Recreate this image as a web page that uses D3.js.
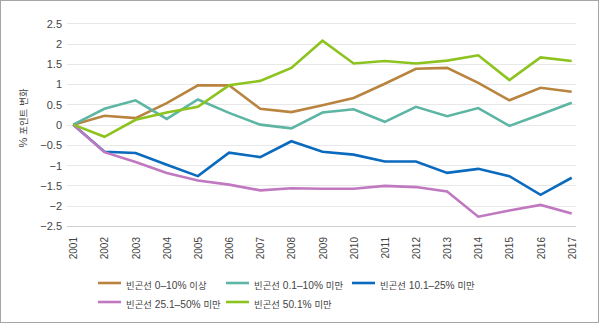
<!DOCTYPE html>
<html>
<head>
<meta charset="utf-8">
<script src="https://cdn.jsdelivr.net/npm/d3@7"></script>
<style>
  body { margin: 0; background: #fff; }
  svg text { font-family: "Liberation Sans", "Noto Sans CJK KR", sans-serif; fill: #444; }
</style>
</head>
<body>
<svg width="600" height="324"></svg>
<script>
const years = [2001, 2002, 2003, 2004, 2005, 2006, 2007, 2008, 2009, 2010, 2011, 2012, 2013, 2014, 2015, 2016, 2017];
const yTicks = [2.5, 2, 1.5, 1, 0.5, 0, -0.5, -1, -1.5, -2, -2.5];

const seriesNames = ["빈곤선 0-10% 이상", "빈곤선 0.1-10% 미만", "빈곤선 10.1-25% 미만", "빈곤선 25.1-50% 미만", "빈곤선 50.1% 미만"];
const below0to10 = [0, 0.22, 0.16, 0.53, 0.97, 0.97, 0.39, 0.31, 0.48, 0.66, 1.01, 1.38, 1.40, 1.03, 0.60, 0.91, 0.81];
const below01to10 = [0, 0.39, 0.60, 0.14, 0.62, 0.29, 0.0, -0.09, 0.30, 0.38, 0.07, 0.44, 0.21, 0.41, -0.03, 0.25, 0.54];
const below10to25 = [0, -0.67, -0.70, -0.99, -1.27, -0.69, -0.80, -0.41, -0.67, -0.74, -0.91, -0.91, -1.19, -1.09, -1.27, -1.73, -1.31];
const below25to50 = [0, -0.68, -0.92, -1.19, -1.38, -1.48, -1.62, -1.57, -1.58, -1.58, -1.51, -1.54, -1.65, -2.27, -2.12, -1.98, -2.19];
const below50 = [0, -0.30, 0.12, 0.30, 0.44, 0.97, 1.08, 1.40, 2.07, 1.51, 1.57, 1.51, 1.58, 1.71, 1.10, 1.66, 1.57];
const colors = ["#b8843f", "#5db5a3", "#0a6abd", "#c079c0", "#8cc31f"];

const allSeries = [below0to10, below01to10, below10to25, below25to50, below50];

const svg = d3.select("svg");

// hangul runs get a smaller size so they sit as narrow as latin text
function mixedText(sel, str, latinSize, hangulSize) {
    const runs = str.match(/[\uAC00-\uD7A3]+|[^\uAC00-\uD7A3]+/g);
    runs.forEach(function(r) {
        const isHangul = /[\uAC00-\uD7A3]/.test(r);
        sel.append("tspan")
            .attr("font-size", (isHangul ? hangulSize : latinSize) + "px")
            .text(r);
    });
}

// outer frame
svg.append("rect")
    .attr("x", 0.5).attr("y", 0.5)
    .attr("width", 598).attr("height", 322)
    .attr("fill", "none")
    .attr("stroke", "#a6a6a6");

const x = d3.scalePoint().domain(years).range([73.3, 571.7]);
const y = d3.scaleLinear().domain([-2.5, 2.5]).range([226, 23.3]);

// grid lines
svg.append("g")
    .selectAll("line")
    .data(yTicks)
    .enter().append("line")
    .attr("x1", 67).attr("x2", 576)
    .attr("y1", function(d) { return Math.round(y(d)) + 0.5; })
    .attr("y2", function(d) { return Math.round(y(d)) + 0.5; })
    .attr("stroke", function(d) { return d === -2.5 ? "#d0d0d0" : "#e8e8e8"; })
    .attr("stroke-width", 1.2);

// y axis labels
const yAxis = svg.append("g")
    .attr("transform", "translate(62,0)")
    .call(d3.axisLeft(y).tickValues(yTicks).tickSize(0).tickPadding(0)
        .tickFormat(function(d) { return String(d).replace("-", "−"); }));
yAxis.select(".domain").remove();
yAxis.selectAll("text")
    .attr("font-size", "11px")
    .attr("dy", "0.35em")
    .style("font-family", "\"Liberation Sans\", sans-serif");

const yTitle = svg.append("text")
    .attr("transform", "translate(27,118) rotate(-90)")
    .attr("text-anchor", "middle");
mixedText(yTitle, "% 포인트 변화", 11, 9.4);

// x axis labels, rotated
const xAxis = svg.append("g")
    .attr("transform", "translate(0,237)")
    .call(d3.axisBottom(x).tickSize(0).tickPadding(0));
xAxis.select(".domain").remove();
xAxis.selectAll("text")
    .attr("font-size", "10px")
    .attr("transform", "rotate(-90)")
    .attr("text-anchor", "end")
    .attr("x", 0)
    .attr("y", 0)
    .attr("dy", "0.35em");

// series lines
const line = d3.line()
    .x(function(d, i) { return x(years[i]); })
    .y(function(d) { return y(d); });

svg.append("g")
    .selectAll("path")
    .data(allSeries)
    .enter().append("path")
    .attr("d", line)
    .attr("fill", "none")
    .attr("stroke", function(d, i) { return colors[i]; })
    .attr("stroke-width", 2.6)
    .attr("stroke-linejoin", "miter");

// legend
const legendPos = [[98, 283], [226, 283], [352, 283], [98, 302], [226, 302]];
const legend = svg.append("g")
    .selectAll("g")
    .data(seriesNames)
    .enter().append("g")
    .attr("transform", function(d, i) { return "translate(" + legendPos[i][0] + "," + legendPos[i][1] + ")"; });

legend.append("line")
    .attr("x1", 0).attr("x2", 23)
    .attr("stroke", function(d, i) { return colors[i]; })
    .attr("stroke-width", 2.6);

legend.append("text")
    .attr("x", 28)
    .attr("dy", "0.35em")
    .each(function(d) { mixedText(d3.select(this), d.replace("-", "–"), 10.2, 9.4); });
</script>
</body>
</html>
